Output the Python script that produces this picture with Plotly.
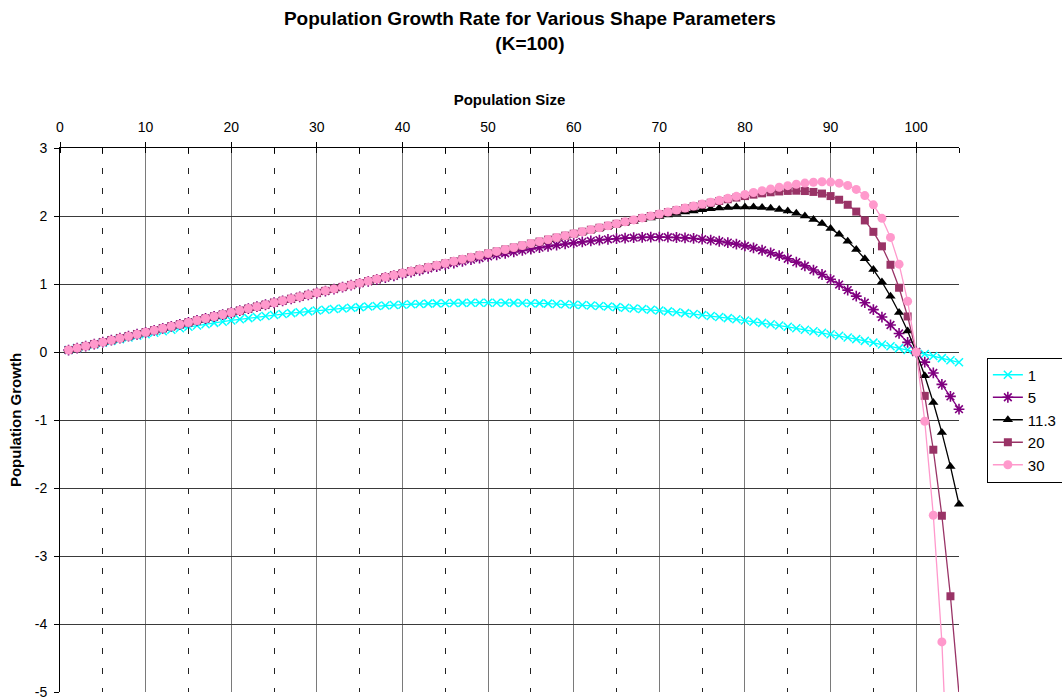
import plotly.graph_objects as go

# Population sizes (x categories)
population = [
    1, 2, 3, 4, 5, 6, 7, 8, 9, 10, 11, 12, 13, 14, 15,
    16, 17, 18, 19, 20, 21, 22, 23, 24, 25, 26, 27, 28, 29, 30,
    31, 32, 33, 34, 35, 36, 37, 38, 39, 40, 41, 42, 43, 44, 45,
    46, 47, 48, 49, 50, 51, 52, 53, 54, 55, 56, 57, 58, 59, 60,
    61, 62, 63, 64, 65, 66, 67, 68, 69, 70, 71, 72, 73, 74, 75,
    76, 77, 78, 79, 80, 81, 82, 83, 84, 85, 86, 87, 88, 89, 90,
    91, 92, 93, 94, 95, 96, 97, 98, 99, 100, 101, 102, 103, 104, 105,
]

# Population growth for each shape parameter
growth_1 = [
    0.029, 0.057, 0.084, 0.111, 0.138, 0.164, 0.189, 0.213, 0.238, 0.261,
    0.284, 0.306, 0.328, 0.349, 0.370, 0.390, 0.409, 0.428, 0.446, 0.464,
    0.481, 0.498, 0.514, 0.529, 0.544, 0.558, 0.572, 0.585, 0.597, 0.609,
    0.620, 0.631, 0.641, 0.651, 0.660, 0.668, 0.676, 0.683, 0.690, 0.696,
    0.702, 0.706, 0.711, 0.715, 0.718, 0.720, 0.722, 0.724, 0.725, 0.725,
    0.725, 0.724, 0.722, 0.720, 0.718, 0.715, 0.711, 0.706, 0.702, 0.696,
    0.690, 0.683, 0.676, 0.668, 0.660, 0.651, 0.641, 0.631, 0.620, 0.609,
    0.597, 0.585, 0.572, 0.558, 0.544, 0.529, 0.514, 0.498, 0.481, 0.464,
    0.446, 0.428, 0.409, 0.390, 0.370, 0.349, 0.328, 0.306, 0.284, 0.261,
    0.238, 0.213, 0.189, 0.164, 0.138, 0.111, 0.084, 0.057, 0.029, 0.000,
    -0.029, -0.059, -0.090, -0.121, -0.152,
]

growth_5 = [
    0.029, 0.058, 0.087, 0.116, 0.145, 0.174, 0.203, 0.232, 0.261, 0.290,
    0.319, 0.348, 0.377, 0.406, 0.435, 0.464, 0.493, 0.522, 0.551, 0.580,
    0.609, 0.638, 0.667, 0.695, 0.724, 0.753, 0.782, 0.811, 0.839, 0.868,
    0.896, 0.925, 0.953, 0.982, 1.010, 1.038, 1.066, 1.093, 1.121, 1.148,
    1.175, 1.202, 1.229, 1.255, 1.281, 1.307, 1.332, 1.357, 1.381, 1.405,
    1.428, 1.451, 1.473, 1.494, 1.515, 1.535, 1.554, 1.572, 1.589, 1.605,
    1.620, 1.633, 1.646, 1.657, 1.666, 1.674, 1.681, 1.685, 1.688, 1.689,
    1.688, 1.684, 1.678, 1.670, 1.659, 1.645, 1.629, 1.609, 1.586, 1.560,
    1.530, 1.496, 1.459, 1.417, 1.371, 1.321, 1.266, 1.205, 1.140, 1.069,
    0.992, 0.910, 0.821, 0.725, 0.623, 0.514, 0.397, 0.273, 0.141, 0.000,
    -0.149, -0.308, -0.476, -0.653, -0.841,
]

growth_11_3 = [
    0.029, 0.058, 0.087, 0.116, 0.145, 0.174, 0.203, 0.232, 0.261, 0.290,
    0.319, 0.348, 0.377, 0.406, 0.435, 0.464, 0.493, 0.522, 0.551, 0.580,
    0.609, 0.638, 0.667, 0.696, 0.725, 0.754, 0.783, 0.812, 0.841, 0.870,
    0.899, 0.928, 0.957, 0.986, 1.015, 1.044, 1.073, 1.102, 1.131, 1.160,
    1.189, 1.218, 1.247, 1.276, 1.305, 1.334, 1.363, 1.392, 1.421, 1.449,
    1.478, 1.507, 1.536, 1.565, 1.593, 1.622, 1.650, 1.678, 1.707, 1.735,
    1.762, 1.790, 1.817, 1.844, 1.871, 1.897, 1.922, 1.947, 1.971, 1.994,
    2.016, 2.037, 2.057, 2.075, 2.091, 2.105, 2.117, 2.126, 2.131, 2.134,
    2.132, 2.126, 2.114, 2.096, 2.072, 2.040, 2.000, 1.950, 1.889, 1.816,
    1.730, 1.628, 1.509, 1.371, 1.212, 1.029, 0.819, 0.580, 0.308, 0.000,
    -0.349, -0.742, -1.185, -1.682, -2.240,
]

growth_20 = [
    0.029, 0.058, 0.087, 0.116, 0.145, 0.174, 0.203, 0.232, 0.261, 0.290,
    0.319, 0.348, 0.377, 0.406, 0.435, 0.464, 0.493, 0.522, 0.551, 0.580,
    0.609, 0.638, 0.667, 0.696, 0.725, 0.754, 0.783, 0.812, 0.841, 0.870,
    0.899, 0.928, 0.957, 0.986, 1.015, 1.044, 1.073, 1.102, 1.131, 1.160,
    1.189, 1.218, 1.247, 1.276, 1.305, 1.334, 1.363, 1.392, 1.421, 1.450,
    1.479, 1.508, 1.537, 1.566, 1.595, 1.624, 1.653, 1.682, 1.711, 1.740,
    1.769, 1.798, 1.827, 1.856, 1.885, 1.913, 1.942, 1.971, 2.000, 2.028,
    2.057, 2.085, 2.113, 2.141, 2.168, 2.195, 2.221, 2.246, 2.271, 2.293,
    2.314, 2.333, 2.349, 2.361, 2.369, 2.372, 2.367, 2.354, 2.330, 2.293,
    2.239, 2.165, 2.065, 1.935, 1.767, 1.554, 1.283, 0.945, 0.523, 0.000,
    -0.645, -1.437, -2.408, -3.592, -5.034,
]

growth_30 = [
    0.029, 0.058, 0.087, 0.116, 0.145, 0.174, 0.203, 0.232, 0.261, 0.290,
    0.319, 0.348, 0.377, 0.406, 0.435, 0.464, 0.493, 0.522, 0.551, 0.580,
    0.609, 0.638, 0.667, 0.696, 0.725, 0.754, 0.783, 0.812, 0.841, 0.870,
    0.899, 0.928, 0.957, 0.986, 1.015, 1.044, 1.073, 1.102, 1.131, 1.160,
    1.189, 1.218, 1.247, 1.276, 1.305, 1.334, 1.363, 1.392, 1.421, 1.450,
    1.479, 1.508, 1.537, 1.566, 1.595, 1.624, 1.653, 1.682, 1.711, 1.740,
    1.769, 1.798, 1.827, 1.856, 1.885, 1.914, 1.943, 1.972, 2.001, 2.030,
    2.059, 2.088, 2.117, 2.146, 2.175, 2.203, 2.232, 2.261, 2.289, 2.317,
    2.345, 2.372, 2.398, 2.423, 2.446, 2.467, 2.484, 2.497, 2.503, 2.499,
    2.483, 2.449, 2.391, 2.300, 2.164, 1.966, 1.685, 1.292, 0.747, 0.000,
    -1.019, -2.400, -4.263, -6.766, -10.115,
]

series_names = ["1", "5", "11.3", "20", "30"]
series_values = [growth_1, growth_5, growth_11_3, growth_20, growth_30]

y_tick_values = [-5, -4, -3, -2, -1, 0, 1, 2, 3]
y_tick_labels = ["-5", "-4", "-3", "-2", "-1", "0", "1", "2", "3"]

colors = ["#00FFFF", "#800080", "#000000", "#993366", "#FF99CC"]
symbols = ["x-thin-open", "asterisk-open", "triangle-up", "square", "circle"]
sizes = [8, 9, 9, 8, 9]
mline = [1.5, 1.6, 0, 0, 0]

fig = go.Figure()
for name, vals, c, s, sz, ml in zip(series_names, series_values, colors, symbols, sizes, mline):
    fig.add_trace(go.Scatter(
        x=population, y=vals, name=name, mode="lines+markers",
        line=dict(color=c, width=1.3),
        marker=dict(symbol=s, size=sz, color=c, line=dict(color=c, width=ml)),
        cliponaxis=False,
    ))

FONT = "Liberation Sans, Arial, sans-serif"

fig.update_layout(
    width=1062, height=700,
    paper_bgcolor="white", plot_bgcolor="white",
    margin=dict(l=60, r=103, t=148, b=8, autoexpand=False),
    font=dict(family=FONT, color="black", size=14),
    title=dict(
        text="<b>Population Growth Rate for Various Shape Parameters<br>(K=100)</b>",
        x=0.499, xref="container", xanchor="center",
        y=0.964, yref="container", yanchor="middle",
        font=dict(size=19, family=FONT, color="black"),
    ),
    showlegend=True,
    legend=dict(
        x=1.031, xanchor="left", y=0.5, yanchor="middle",
        bordercolor="black", borderwidth=1, bgcolor="white",
        font=dict(size=15, family=FONT, color="black"),
        itemwidth=30,
    ),
    xaxis=dict(
        side="top", range=[0, 105], dtick=10, tick0=0,
        showline=True, linecolor="black", linewidth=1,
        ticks="outside", ticklen=5, tickcolor="black",
        showgrid=True, gridcolor="#7a7a7a", gridwidth=1,
        zeroline=False,
        minor=dict(dtick=5, tick0=0, ticks="inside", ticklen=5, tickcolor="black",
                   showgrid=True, gridcolor="#222222", gridwidth=1, griddash="6px,14px"),
        title=dict(text="<b>Population Size</b>", font=dict(size=15, family=FONT), standoff=10),
        tickfont=dict(size=14),
        ticklabelstandoff=4,
    ),
    yaxis=dict(
        range=[-5, 3], tickmode="array", tickvals=y_tick_values, ticktext=y_tick_labels,
        showline=True, linecolor="black", linewidth=1,
        ticks="outside", ticklen=5, tickcolor="black",
        showgrid=True, gridcolor="#3a3a3a", gridwidth=1,
        zeroline=False,
        title=dict(text="<b>Population Growth</b>", font=dict(size=15, family=FONT), standoff=9),
        tickfont=dict(size=14),
        ticklabelstandoff=4,
    ),
)

# remove the default page margin so the figure sits at the window's top-left corner
fig.write_html(
    "out.html",
    config={"displayModeBar": False},
    post_script="document.body.style.margin='0px';document.body.style.overflow='hidden';",
)
